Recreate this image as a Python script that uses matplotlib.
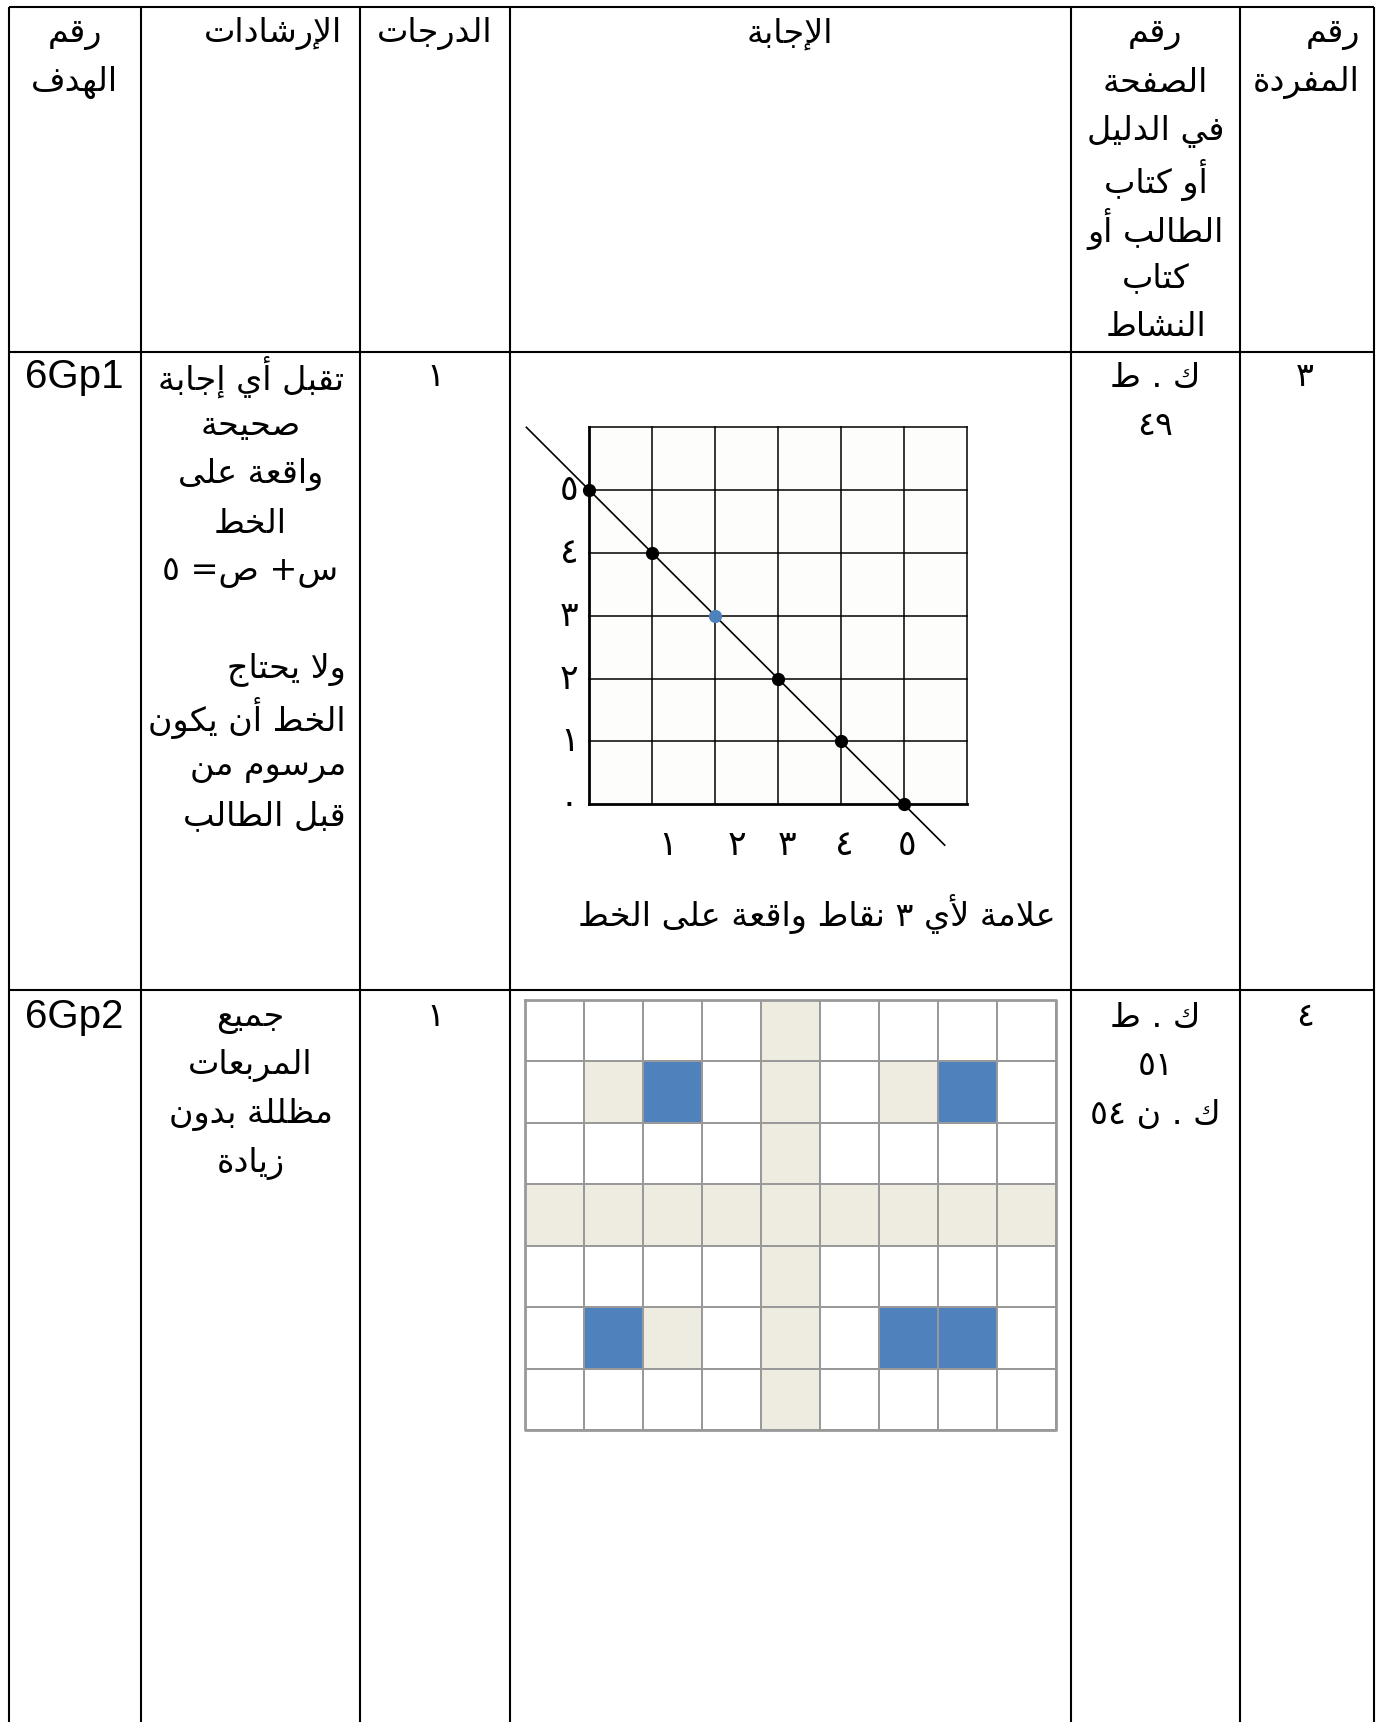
import re
import matplotlib
matplotlib.use("Agg")
import matplotlib.pyplot as plt
from matplotlib.colors import ListedColormap

W, H = 1383, 1722

# ---- minimal arabic shaping (no reshaper lib available) ----
_TABLE = [
    ("ء", 0xFE80, 1), ("آ", 0xFE81, 2), ("أ", 0xFE83, 2), ("ؤ", 0xFE85, 2),
    ("إ", 0xFE87, 2), ("ئ", 0xFE89, 4), ("ا", 0xFE8D, 2), ("ب", 0xFE8F, 4),
    ("ة", 0xFE93, 2), ("ت", 0xFE95, 4), ("ث", 0xFE99, 4), ("ج", 0xFE9D, 4),
    ("ح", 0xFEA1, 4), ("خ", 0xFEA5, 4), ("د", 0xFEA9, 2), ("ذ", 0xFEAB, 2),
    ("ر", 0xFEAD, 2), ("ز", 0xFEAF, 2), ("س", 0xFEB1, 4), ("ش", 0xFEB5, 4),
    ("ص", 0xFEB9, 4), ("ض", 0xFEBD, 4), ("ط", 0xFEC1, 4), ("ظ", 0xFEC5, 4),
    ("ع", 0xFEC9, 4), ("غ", 0xFECD, 4), ("ف", 0xFED1, 4), ("ق", 0xFED5, 4),
    ("ك", 0xFED9, 4), ("ل", 0xFEDD, 4), ("م", 0xFEE1, 4), ("ن", 0xFEE5, 4),
    ("ه", 0xFEE9, 4), ("و", 0xFEED, 2), ("ى", 0xFEEF, 2), ("ي", 0xFEF1, 4),
]
FORMS = {}
for ch, b, n in _TABLE:
    FORMS[ch] = [b, b + 1 if n > 1 else None, b + 2 if n == 4 else None, b + 3 if n == 4 else None]
LAM_ALEF = {"آ": (0xFEF5, 0xFEF6), "أ": (0xFEF7, 0xFEF8), "إ": (0xFEF9, 0xFEFA), "ا": (0xFEFB, 0xFEFC)}


def joins_next(c):
    return c in FORMS and FORMS[c][2] is not None


def shape(s):
    out = []
    i = 0
    while i < len(s):
        c = s[i]
        if c not in FORMS:
            out.append(c)
            i += 1
            continue
        prev = s[i - 1] if i > 0 else ""
        nxt = s[i + 1] if i + 1 < len(s) else ""
        lp = joins_next(prev)
        if c == "ل" and nxt in LAM_ALEF:
            out.append(chr(LAM_ALEF[nxt][1] if lp else LAM_ALEF[nxt][0]))
            i += 2
            continue
        ln = joins_next(c) and nxt in FORMS
        iso, fin, ini, med = FORMS[c]
        if lp and ln:
            code = med
        elif lp:
            code = fin
        elif ln:
            code = ini
        else:
            code = iso
        out.append(chr(code if code is not None else iso))
        i += 1
    return "".join(out)


def rtl(s):
    s = shape(s)
    runs = re.findall(r"[0-9\u0660-\u0669]+|[^0-9\u0660-\u0669]+", s)
    return "".join(r if r[0].isdigit() else r[::-1] for r in reversed(runs))


# ---- data ----
headers = [
    ["رقم", "الهدف"],
    ["الإرشادات"],
    ["الدرجات"],
    ["الإجابة"],
    ["رقم", "الصفحة", "في الدليل", "أو كتاب", "الطالب أو", "كتاب", "النشاط"],
    ["رقم", "المفردة"],
]
goal_ids = ["6Gp1", "6Gp2"]
item_nums = ["٣", "٤"]
grades = ["١", "١"]
page_refs = [["ك . ط", "٤٩"], ["ك . ط", "٥١", "ك . ن ٥٤"]]
guide1_a = ["تقبل أي إجابة", "صحيحة", "واقعة على", "الخط", "س+ ص= ٥"]
guide1_b = ["ولا يحتاج", "الخط أن يكون", "مرسوم من", "قبل الطالب"]
guide2 = ["جميع", "المربعات", "مظللة بدون", "زيادة"]
caption1 = "علامة لأي ٣ نقاط واقعة على الخط"

# line graph x + y = 5
pts_x = [0, 1, 2, 3, 4, 5]
pts_y = [5, 4, 3, 2, 1, 0]
highlight = 2
line_x = [-1.0, 5.65]
line_y = [6.0, -0.65]
xlabels = ["١", "٢", "٣", "٤", "٥"]
xlabel_pos = [1.25, 2.35, 3.15, 4.05, 5.05]
ylabels = ["٠", "١", "٢", "٣", "٤", "٥"]

# shaded squares: 0 white, 1 beige, 2 blue
shade_grid = [
    [0, 0, 0, 0, 1, 0, 0, 0, 0],
    [0, 1, 2, 0, 1, 0, 1, 2, 0],
    [0, 0, 0, 0, 1, 0, 0, 0, 0],
    [1, 1, 1, 1, 1, 1, 1, 1, 1],
    [0, 0, 0, 0, 1, 0, 0, 0, 0],
    [0, 2, 1, 0, 1, 0, 2, 2, 0],
    [0, 0, 0, 0, 1, 0, 0, 0, 0],
]

AR = ["DejaVu Sans"]
LAT = ["Liberation Sans", "DejaVu Sans"]
AR_SIZE = 24
LAT_SIZE = 29

fig = plt.figure(figsize=(W / 100, H / 100), dpi=100)
ax = fig.add_axes([0, 0, 1, 1])
ax.set_xlim(0, W)
ax.set_ylim(H, 0)
ax.axis("off")

col_x = [8.8, 140.6, 360.3, 509.7, 1071, 1240, 1374]
row_y = [6.6, 351.5, 989.8]
for x in col_x:
    ax.plot([x, x], [row_y[0], H], color="black", lw=1.5, solid_capstyle="butt")
for y in row_y:
    ax.plot([col_x[0], col_x[-1]], [y, y], color="black", lw=1.5, solid_capstyle="butt")

pitch = 48.7


def ar_lines(lines, x, y0, ha="center", size=AR_SIZE, step=pitch):
    for k, t in enumerate(lines):
        if t:
            ax.text(x, y0 + k * step, rtl(t), ha=ha, va="center", fontsize=size, family=AR)


# header row
hdr_y = 34
ar_lines(headers[0], 74.7, hdr_y)
ar_lines(headers[1], 342, hdr_y, ha="right")
ar_lines(headers[2], 435, hdr_y)
ar_lines(headers[3], 790, hdr_y)
ar_lines(headers[4], 1155.5, hdr_y)
ar_lines(headers[5], 1360, hdr_y, ha="right")

# body rows
body_y = [377, 1017]
for r in range(2):
    ax.text(74.7, body_y[r], goal_ids[r], ha="center", va="center", fontsize=LAT_SIZE, family=LAT)
    ar_lines([grades[r]], 435, body_y[r])
    ar_lines(page_refs[r], 1155.5, body_y[r])
    ar_lines([item_nums[r]], 1305, body_y[r])

ar_lines(guide1_a, 250.5, body_y[0])
ar_lines(guide1_b, 346, body_y[0] + 6 * pitch, ha="right")
ar_lines(guide2, 250.5, body_y[1])
ax.text(817, 914, rtl(caption1), ha="center", va="center", fontsize=AR_SIZE, family=AR)


def px_axes(x0, y0, x1, y1):
    a = fig.add_axes([x0 / W, 1 - y1 / H, (x1 - x0) / W, (y1 - y0) / H])
    a.patch.set_alpha(0)
    a.axis("off")
    return a


# ---- line graph ----
ox, oy, ux, uy = 589.3, 804.3, 62.9, 62.83
gx0, gx1, gy0, gy1 = -1.6, 6.3, -1.1, 6.3
g = px_axes(ox + gx0 * ux, oy - gy1 * uy, ox + gx1 * ux, oy - gy0 * uy)
g.set_xlim(gx0, gx1)
g.set_ylim(gy0, gy1)
g.fill_between([0, 6], 0, 6, color="#fdfdfb", lw=0)
for v in range(7):
    g.plot([v, v], [0, 6], color="black", lw=1.1 if v else 2.0)
    g.plot([0, 6], [v, v], color="black", lw=1.1 if v else 2.0)
g.plot(line_x, line_y, color="black", lw=1.2)
for i, (px, py) in enumerate(zip(pts_x, pts_y)):
    c = "#4f81bd" if i == highlight else "black"
    g.plot(px, py, "o", color=c, ms=8.5, zorder=5)
for lab, p in zip(xlabels, xlabel_pos):
    g.text(p, -0.65, lab, ha="center", va="center", fontsize=25, family=AR)
for k, lab in enumerate(ylabels):
    g.text(-0.32, k, lab, ha="center", va="center", fontsize=25, family=AR)

# ---- shaded squares grid ----
nr, nc = len(shade_grid), len(shade_grid[0])
s = px_axes(525, 999.6, 1056, 1430)
cmap = ListedColormap(["white", "#eeece1", "#4f81bd"])
s.pcolormesh(shade_grid, cmap=cmap, vmin=-0.5, vmax=2.5, edgecolors="#999999", linewidth=1.3)
s.set_xlim(0, nc)
s.set_ylim(nr, 0)
s.plot([0, nc, nc, 0, 0], [0, 0, nr, nr, 0], color="#999999", lw=2.0, clip_on=False)

fig.savefig("out.png", dpi=100)
